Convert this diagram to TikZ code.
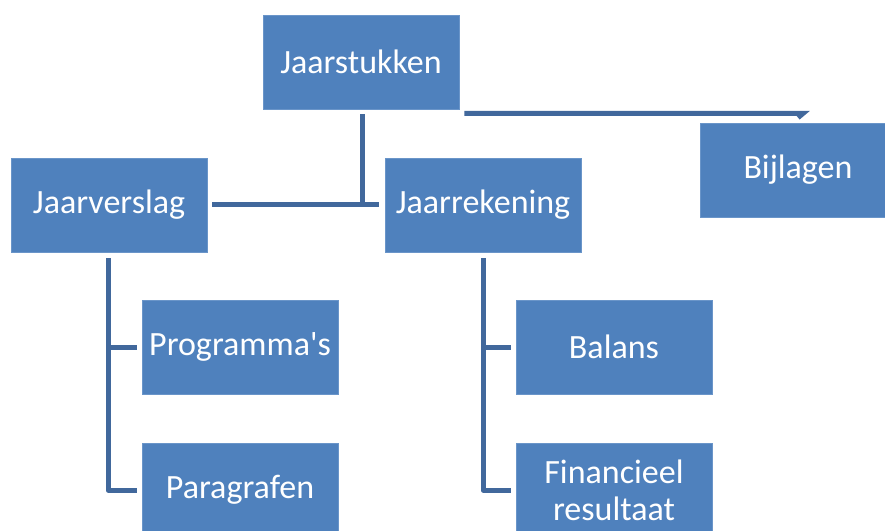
\documentclass[tikz,border=0pt]{standalone}
\usepackage{fontspec}
\setmainfont{Carlito}[Ligatures=TeXOff]
\definecolor{boxblue}{HTML}{4F81BD}
\definecolor{boxedge}{HTML}{6A95C9}
\definecolor{lineblue}{HTML}{41689C}
\begin{document}
\begin{tikzpicture}[x=1pt,y=-1pt,
  box/.style={fill=boxblue, draw=boxedge, line width=0.8pt,
    minimum width=196pt, minimum height=94pt, inner sep=0pt,
    text=white, font=\fontsize{34}{37}\selectfont, align=center, text width=194pt},
  conn/.style={draw=lineblue, line width=5pt, line join=round}]
\useasboundingbox (0,0) rectangle (885,530);
\clip (0,0) rectangle (885,530);
\fill[white] (0,0) rectangle (885,530);
\node[box] (top)  at (361,62)  {Jaarstukken};
\node[box] (links) at (109,205) {Jaarverslag};
\node[box] (rek)  at (483,205) {Jaarrekening};
\node[box] (bij)  at (798,170) {Bijlagen};
\node[box] (prog) at (240,347) {Programma's};
\node[box] (par)  at (240,490) {Paragrafen};
\node[box] (bal)  at (614,347) {Balans};
\node[box] (fin)  at (614,490) {Financieel\\resultaat};
\coordinate (hj) at (362,204);
\draw[conn] ([xshift=1pt,yshift=-5pt]top.south) -- (hj);
\draw[conn] ([xshift=5pt]links.east |- hj) -- ([xshift=-6pt]rek.west |- hj);
\draw[conn, line join=miter] ([xshift=5pt,yshift=-4pt]top.south east) -- ([xshift=5pt,yshift=-4pt]top.south east -| bij.north) -- ([yshift=5pt]bij.north);
\draw[conn] ([xshift=-1pt,yshift=-6pt]links.south) -- ([xshift=-1pt]links.south |- par.west) -- ([xshift=-5pt]par.west);
\draw[conn] ([xshift=-1pt]links.south |- prog.west) -- ([xshift=-5pt]prog.west);
\draw[conn] ([yshift=-6pt]rek.south) -- (rek.south |- fin.west) -- ([xshift=-5pt]fin.west);
\draw[conn] (rek.south |- bal.west) -- ([xshift=-5pt]bal.west);
\end{tikzpicture}
\end{document}
